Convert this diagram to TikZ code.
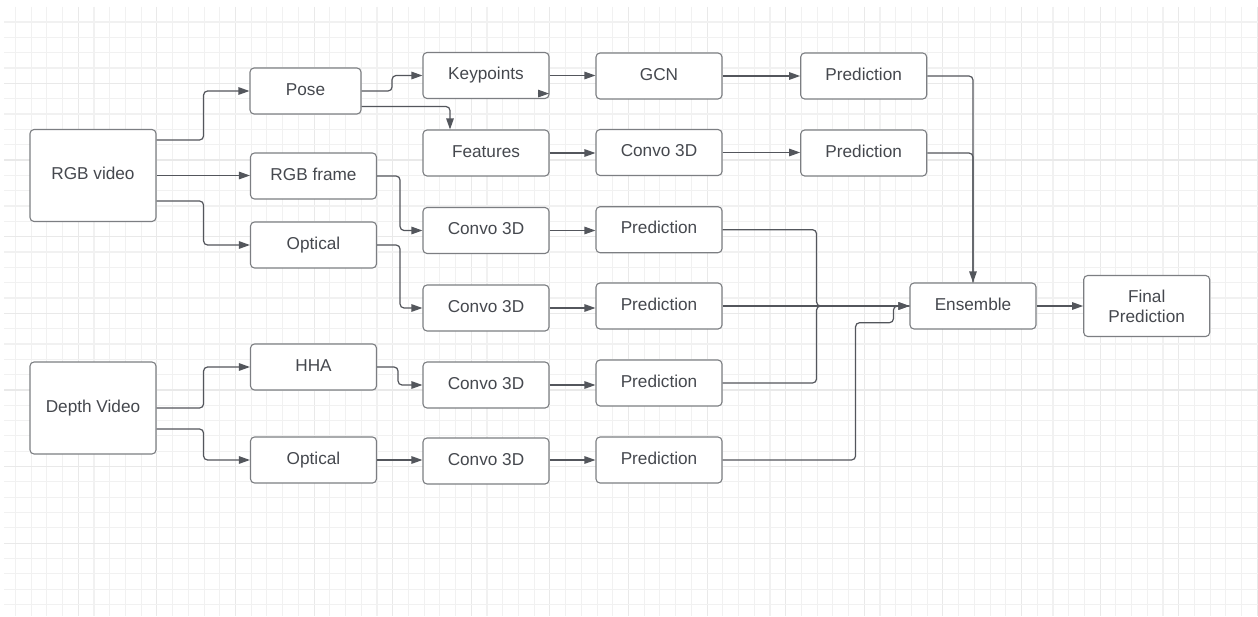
\documentclass[tikz,border=0pt]{standalone}
\usepackage{fontspec}
\setmainfont{Liberation Sans}
\usetikzlibrary{arrows.meta}

\definecolor{gridminor}{HTML}{F1F1F1}
\definecolor{gridmajor}{HTML}{E9E9E9}
\definecolor{boxline}{HTML}{7C7E82}
\definecolor{wire}{HTML}{53565C}
\definecolor{label}{HTML}{45484E}

\tikzset{
  blockbox/.style={draw=boxline, line width=1.1pt, rounded corners=4pt, fill=white,
    minimum width=126pt, minimum height=46pt, inner sep=2pt, align=center,
    text height=12.5pt, text depth=4.3pt,
    text=label, font=\fontsize{17.2}{20}\selectfont},
  tallbox/.style={blockbox, minimum height=92pt},
  conn/.style={draw=wire, line width=1.2pt, rounded corners=4pt,
    -{Triangle[length=11pt,width=7.5pt]}},
  plainconn/.style={draw=wire, line width=1.2pt, rounded corners=4pt}
}

\begin{document}
\begin{tikzpicture}[x=1pt,y=-1pt]
\useasboundingbox (0,0) rectangle (1258,616);
\fill[white] (0,0) rectangle (1258,616);

% background grid
\foreach \k in {1,...,80}{
  \pgfmathsetmacro{\gx}{-0.3+15.72*\k}
  \pgfmathtruncatemacro{\m}{mod(\k,5)}
  \ifnum\m=0
    \draw[gridmajor, line width=1.1pt] (\gx,6.7) -- (\gx,616);
  \else
    \draw[gridminor, line width=1.1pt] (\gx,6.7) -- (\gx,616);
  \fi
}
\foreach \k in {1,...,39}{
  \pgfmathsetmacro{\gy}{6.7+15.33*\k}
  \pgfmathtruncatemacro{\m}{mod(\k,5)}
  \ifnum\m=0
    \draw[gridmajor, line width=1.1pt] (4,\gy) -- (1258,\gy);
  \else
    \draw[gridminor, line width=1.1pt] (4,\gy) -- (1258,\gy);
  \fi
}

% inputs
\node[tallbox] (rgb)   at (93,175.5) {RGB video};
\node[tallbox] (depth) at (93,408)   {Depth Video};

% preprocessing
\node[blockbox, minimum width=111pt] (pose) at (305.5,91) {Pose};
\node[blockbox] (rgbf) at (313.5,176) {RGB frame};
\node[blockbox] (opta) at (313.5,245) {Optical};
\node[blockbox] (hha)  at (313.5,367) {HHA};
\node[blockbox] (optb) at (313.5,460) {Optical};

% feature stage
\node[blockbox] (kp)   at (486,75.5)  {Keypoints};
\node[blockbox] (feat) at (486,153)   {Features};
\node[blockbox] (cva)  at (486,230.5) {Convo 3D};
\node[blockbox] (cvb)  at (486,308)   {Convo 3D};
\node[blockbox] (cvc)  at (486,385)   {Convo 3D};
\node[blockbox] (cvd)  at (486,461)   {Convo 3D};

% models and predictions
\node[blockbox] (gcn)  at (659,76)    {GCN};
\node[blockbox] (cvt)  at (659,152.5) {Convo 3D};
\node[blockbox] (pra)  at (863.7,76)  {Prediction};
\node[blockbox] (prb)  at (863.7,153) {Prediction};
\node[blockbox] (prc)  at (659,229.7) {Prediction};
\node[blockbox] (prd)  at (659,306)   {Prediction};
\node[blockbox] (pre)  at (659,383)   {Prediction};
\node[blockbox] (prf)  at (659,460)   {Prediction};

% fusion
\node[blockbox] (ens) at (973,306) {Ensemble};
\node[blockbox, text height=, text depth=, minimum height=61pt] (fin) at (1146.7,306) {Final\\Prediction};

% RGB branch
\draw[conn] ([yshift=35.5pt]rgb.east) -- ++(47,0) |- (pose.west);
\draw[conn] (rgb.east) -- (rgb.east -| rgbf.west);
\draw[conn] ([yshift=-25.5pt]rgb.east) -- ++(47,0) |- (opta.west);

\draw[conn] (pose.east) -- ++(30.5,0) |- (kp.west);
\draw[conn] ([yshift=-15.5pt]pose.east) -| ([xshift=-36pt]feat.north);
\draw[conn] ([xshift=-12pt,yshift=5.5pt]kp.south east) -- ([xshift=-0.5pt,yshift=5.5pt]kp.south east);

\draw[conn] (kp.east) -- (kp.east -| gcn.west);
\draw[conn] (feat.east) -- (feat.east -| cvt.west);
\draw[conn] (gcn.east) -- (gcn.east -| pra.west);
\draw[conn] (cvt.east) -- (cvt.east -| prb.west);

\draw[conn] (rgbf.east) -- ++(23,0) |- (cva.west);
\draw[conn] (opta.east) -- ++(23,0) |- (cvb.west);

% depth branch
\draw[conn] (depth.east) -- ++(47,0) |- (hha.west);
\draw[conn] ([yshift=-21pt]depth.east) -- ++(47,0) |- (optb.west);
\draw[conn] (hha.east) -- ++(21,0) |- (cvc.west);
\draw[conn] (optb.east) -- (optb.east -| cvd.west);

\draw[conn] (cva.east) -- (cva.east -| prc.west);
\draw[conn] (cvb.east) -- (cvb.east -| prd.west);
\draw[conn] (cvc.east) -- (cvc.east -| pre.west);
\draw[conn] ([yshift=1pt]cvd.east) -- ([yshift=1pt]cvd.east -| prf.west);

% into the ensemble
\draw[plainconn] (pra.east) -| (ens.north);
\draw[conn] (prb.east) -| (ens.north);
\draw[plainconn] (prc.east) -- ++(94,0) |- (ens.west);
\draw[plainconn] (pre.east) -- ++(94,0) |- (ens.west);
\draw[conn] (prd.east) -- (ens.west);
\draw[conn] (prf.east) -- ++(133,0) |- ([xshift=-16pt,yshift=-16.7pt]ens.west) |- (ens.west);
\draw[conn] (ens.east) -- (fin.west);
\end{tikzpicture}
\end{document}
